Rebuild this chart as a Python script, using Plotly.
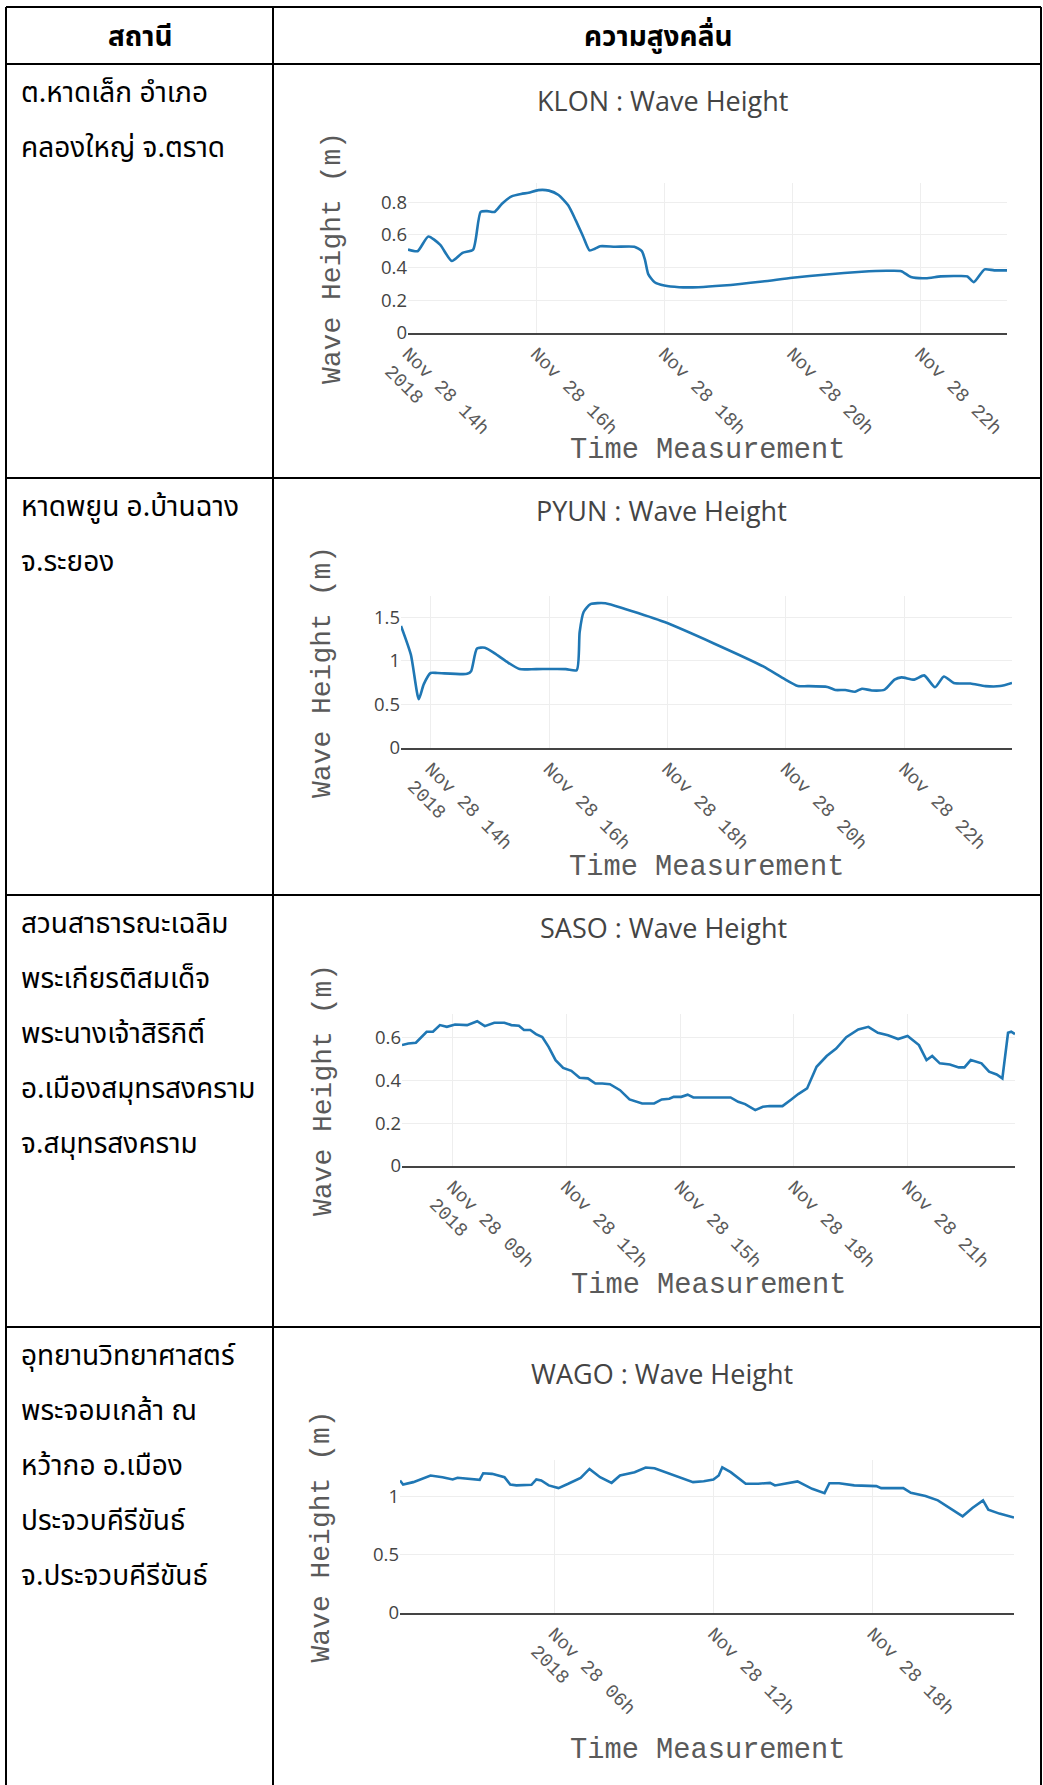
import plotly.graph_objects as go

DATE = "2018-11-28 "

# ---------------- data ----------------
KLON_T = ["14:00","14:09","14:19","14:30","14:41","14:51","15:01","15:08","15:14","15:21","15:28","15:37",
          "15:46","15:53","16:02","16:12","16:21","16:30","16:37","16:44","16:50","16:55","17:00","17:14",
          "17:32","17:39","17:42","17:45","17:51","18:00","18:14","18:32","18:55","19:32","20:00","20:32",
          "21:05","21:28","21:42","21:51","22:05","22:19","22:37","22:44","22:50","23:00","23:09","23:21"]
KLON_V = [0.51,0.50,0.59,0.54,0.44,0.49,0.51,0.74,0.745,0.74,0.79,0.835,
          0.85,0.857,0.873,0.87,0.843,0.78,0.69,0.59,0.505,0.515,0.53,0.527,
          0.527,0.50,0.445,0.36,0.31,0.29,0.28,0.28,0.29,0.315,0.338,0.358,
          0.374,0.38,0.378,0.342,0.335,0.346,0.348,0.345,0.311,0.389,0.383,0.383]

PYUN_T = ["13:30","13:40","13:48","13:53","14:00","14:07","14:37","14:41","14:47","14:55","15:05","15:17",
          "15:30","15:47","16:17","16:28","16:31","16:35","16:42","16:57","17:17","17:57","18:47","19:37",
          "19:57","20:12","20:22","20:42","20:50","21:00","21:10","21:17","21:27","21:40","21:50","21:57",
          "22:10","22:20","22:31","22:40","22:50","23:07","23:22","23:37","23:49"]
PYUN_V = [1.40,1.07,0.56,0.73,0.86,0.86,0.85,0.88,1.14,1.15,1.085,0.99,
          0.905,0.905,0.905,0.893,1.33,1.56,1.65,1.66,1.594,1.444,1.199,0.935,
          0.80,0.71,0.71,0.70,0.665,0.665,0.645,0.68,0.66,0.67,0.784,0.81,
          0.784,0.833,0.697,0.82,0.746,0.739,0.71,0.71,0.746]

SASO_T = ["07:40","07:50","08:02","08:19","08:29","08:40","08:51","09:04","09:23","09:39","09:51","10:06",
          "10:22","10:33","10:45","10:53","11:03","11:12","11:22","11:32","11:43","11:55","12:08","12:21",
          "12:34","12:46","12:57","13:09","13:25","13:40","14:00","14:19","14:31","14:43","14:50","15:02",
          "15:12","15:21","15:53","16:20","16:32","16:43","16:59","17:11","17:22","17:42","17:56","18:07",
          "18:21","18:36","18:52","19:07","19:23","19:42","19:58","20:13","20:29","20:45","21:00","21:18",
          "21:30","21:39","21:51","22:07","22:21","22:30","22:40","22:57","23:09","23:21","23:30","23:39",
          "23:44","23:50"]
SASO_V = [0.563,0.57,0.574,0.625,0.625,0.656,0.648,0.659,0.656,0.674,0.651,0.667,
          0.667,0.656,0.653,0.633,0.633,0.614,0.60,0.555,0.493,0.457,0.443,0.411,
          0.408,0.384,0.384,0.381,0.353,0.310,0.291,0.291,0.31,0.313,0.322,0.322,
          0.332,0.319,0.319,0.319,0.299,0.288,0.26,0.276,0.279,0.279,0.31,0.335,
          0.361,0.462,0.512,0.547,0.60,0.636,0.648,0.62,0.609,0.591,0.605,0.563,
          0.493,0.512,0.478,0.473,0.459,0.459,0.493,0.478,0.439,0.426,0.408,0.62,
          0.625,0.614]

WAGO_T = ["00:12","00:19","00:42","01:21","01:48","02:11","02:22","02:44","03:12","03:20","03:40","04:08",
          "04:21","04:35","05:09","05:20","05:31","05:48","06:10","06:32","07:00","07:20","07:44","08:10",
          "08:29","09:02","09:27","09:47","10:20","10:48","11:14","11:38","12:00","12:12","12:20","12:39",
          "13:13","13:41","14:08","14:19","14:42","15:10","15:43","16:11","16:22","16:44","17:18","18:08",
          "18:19","19:09","19:26","19:59","20:27","20:55","21:23","21:45","22:09","22:21","22:46","23:19"]
WAGO_V = [1.133,1.099,1.119,1.176,1.161,1.142,1.156,1.147,1.139,1.195,1.19,1.161,
          1.099,1.091,1.096,1.142,1.133,1.091,1.068,1.105,1.156,1.232,1.161,1.113,
          1.176,1.204,1.244,1.238,1.195,1.156,1.119,1.127,1.142,1.176,1.246,1.204,
          1.105,1.105,1.113,1.091,1.105,1.125,1.062,1.025,1.11,1.11,1.091,1.085,
          1.068,1.068,1.028,1.0,0.963,0.892,0.827,0.898,0.963,0.884,0.85,0.816]

STATIONS = ["KLON", "PYUN", "SASO", "WAGO"]
TICK_HOURS = [["14:00","16:00","18:00","20:00","22:00"],
              ["14:00","16:00","18:00","20:00","22:00"],
              ["09:00","12:00","15:00","18:00","21:00"],
              ["06:00","12:00","18:00"]]
TICK_TEXT = [["Nov 28 14h<br>2018","Nov 28 16h","Nov 28 18h","Nov 28 20h","Nov 28 22h"],
             ["Nov 28 14h<br>2018","Nov 28 16h","Nov 28 18h","Nov 28 20h","Nov 28 22h"],
             ["Nov 28 09h<br>2018","Nov 28 12h","Nov 28 15h","Nov 28 18h","Nov 28 21h"],
             ["Nov 28 06h<br>2018","Nov 28 12h","Nov 28 18h"]]
Y_DTICK = [0.2, 0.5, 0.2, 0.5]

HEADERS = ["สถานี", "ความสูงคลื่น"]
PLACES = [
    ["ต.หาดเล็ก อำเภอ", "คลองใหญ่ จ.ตราด"],
    ["หาดพยูน อ.บ้านฉาง", "จ.ระยอง"],
    ["สวนสาธารณะเฉลิม", "พระเกียรติสมเด็จ", "พระนางเจ้าสิริกิติ์", "อ.เมืองสมุทรสงคราม", "จ.สมุทรสงคราม"],
    ["อุทยานวิทยาศาสตร์", "พระจอมเกล้า ณ", "หว้ากอ อ.เมือง", "ประจวบคีรีขันธ์", "จ.ประจวบคีรีขันธ์"],
]
SERIES = [(KLON_T, KLON_V), (PYUN_T, PYUN_V), (SASO_T, SASO_V), (WAGO_T, WAGO_V)]
SHAPES = ["spline", "spline", "linear", "linear"]

# ---------------- layout geometry (pixels) ----------------
W, H = 1043, 1785
def fx(x): return x / W
def fy(y): return 1 - y / H

# plot areas: (left, right, top, bottom) in px
BOXES = [(408, 1007, 183, 333), (401, 1012, 596, 748), (402, 1015, 1014, 1166), (400, 1014, 1460, 1613)]
TITLE_Y = [100, 511, 927, 1373]
YTITLE_X = [332, 322, 323, 321]
XTITLE_Y = [450, 867, 1285, 1750]
ROW_TOPS = [64, 478, 895, 1327]

THAI = "Noto Sans Thai, Tahoma, Leelawadee UI, Loma, Garuda, sans-serif"
MONO = "Courier New, Liberation Mono, monospace"
SANS = "Open Sans, sans-serif"
GRAY = "#444"
MONO_GRAY = "#5a5a5a"

fig = go.Figure()
layout = dict(width=W, height=H, margin=dict(l=0, r=0, t=0, b=0, pad=0, autoexpand=False),
              paper_bgcolor="white", plot_bgcolor="white", showlegend=False)
annotations = []
shapes = []

for i, (name, (t, v)) in enumerate(zip(STATIONS, SERIES)):
    n = "" if i == 0 else str(i + 1)
    xs = [DATE + s for s in t]
    fig.add_trace(go.Scatter(x=xs, y=v, mode="lines", xaxis="x" + n, yaxis="y" + n,
                             line=dict(color="#1f77b4", width=2.6, shape=SHAPES[i], smoothing=0.6),
                             hoverinfo="skip"))
    l, r, tp, bt = BOXES[i]
    layout["xaxis" + n] = dict(domain=[fx(l), fx(r)], anchor="y" + n, type="date", automargin=False,
                               range=[xs[0], xs[-1]],
                               tickvals=[DATE + h for h in TICK_HOURS[i]], ticktext=TICK_TEXT[i],
                               tickangle=45, tickfont=dict(family=MONO, size=19, color=MONO_GRAY),
                               showgrid=True, gridcolor="#eeeeee", gridwidth=1,
                               showline=True, linecolor=GRAY, linewidth=2, zeroline=False, ticks="")
    layout["yaxis" + n] = dict(domain=[fy(bt), fy(tp)], anchor="x" + n, automargin=False,
                               range=[0, max(v) * 1.05], dtick=Y_DTICK[i], tick0=0,
                               tickfont=dict(family=SANS, size=18.5, color=GRAY),
                               showgrid=True, gridcolor="#eeeeee", gridwidth=1,
                               zeroline=False, showline=False, ticks="")
    annotations.append(dict(text=name + " : Wave Height", x=fx((l + r) / 2 - 45), y=fy(TITLE_Y[i]),
                            xref="paper", yref="paper", showarrow=False, xanchor="center", yanchor="middle",
                            font=dict(family=SANS, size=27, color=GRAY)))
    annotations.append(dict(text="Wave Height (m)", x=fx(YTITLE_X[i]), y=fy((tp + bt) / 2),
                            xref="paper", yref="paper", showarrow=False, textangle=-90,
                            xanchor="center", yanchor="middle",
                            font=dict(family=MONO, size=28, color=MONO_GRAY)))
    annotations.append(dict(text="Time Measurement", x=fx((l + r) / 2), y=fy(XTITLE_Y[i]),
                            xref="paper", yref="paper", showarrow=False, xanchor="center", yanchor="middle",
                            font=dict(family=MONO, size=28.7, color=MONO_GRAY)))

# table header
for txt, cx in zip(HEADERS, [140, 658]):
    annotations.append(dict(text="<b>" + txt + "</b>", x=fx(cx), y=fy(37), xref="paper", yref="paper",
                            showarrow=False, xanchor="center", yanchor="middle",
                            font=dict(family=THAI, size=28, color="black")))
# station names
for rt, lines in zip(ROW_TOPS, PLACES):
    for k, line in enumerate(lines):
        annotations.append(dict(text=line, x=fx(19), y=fy(rt + 29 + 55 * k), xref="paper", yref="paper",
                                showarrow=False, xanchor="left", yanchor="middle",
                                font=dict(family=THAI, size=28, color="black")))

# table borders
LEFT, MID, RIGHT, TOP = 6, 273, 1041, 7
for x in [LEFT, MID, RIGHT]:
    shapes.append(dict(type="line", xref="paper", yref="paper", x0=fx(x), x1=fx(x), y0=fy(TOP), y1=fy(H + 5),
                       line=dict(color="black", width=2)))
for y in [TOP] + ROW_TOPS:
    shapes.append(dict(type="line", xref="paper", yref="paper", x0=fx(LEFT), x1=fx(RIGHT), y0=fy(y), y1=fy(y),
                       line=dict(color="black", width=2)))

layout["annotations"] = annotations
layout["shapes"] = shapes
fig.update_layout(**layout)
fig.write_html("out.html", config={"displayModeBar": False, "responsive": False},
               post_script="document.body.style.margin='0px';document.body.style.overflow='hidden';")
